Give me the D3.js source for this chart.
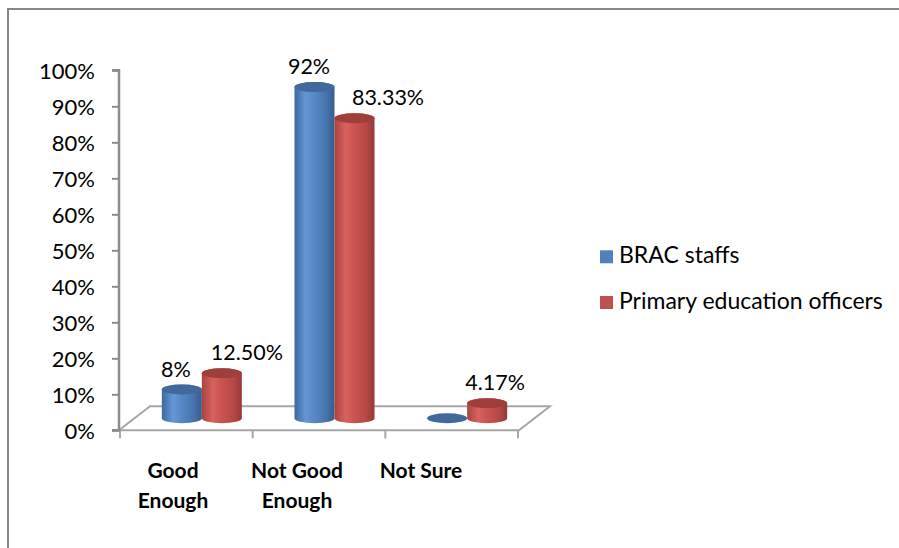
<!DOCTYPE html>
<html>
<head>
<meta charset="utf-8">
<script src="https://cdn.jsdelivr.net/npm/d3@7"></script>
<style>
  body { margin: 0; background: #fff; }
  svg { display: block; }
</style>
</head>
<body>
<svg id="chart" width="899" height="548"></svg>
<script>
// ---- data ----
const categories = ["Good Enough", "Not Good Enough", "Not Sure"];
const seriesNames = ["BRAC staffs", "Primary education officers"];
const bracStaffs = [0.08, 0.92, 0];
const educationOfficers = [0.125, 0.8333, 0.0417];
const tickValues = [0, 0.1, 0.2, 0.3, 0.4, 0.5, 0.6, 0.7, 0.8, 0.9, 1];

// ---- layout ----
const FONT = "Lato, 'Liberation Sans', Arial, sans-serif";
const depth = { dx: 31, dy: -24 };          // floor depth vector
const barRx = 20, ellRy = 5;                 // cylinder radii
const labelShift = [[-6, 25], [-5.5, 33.5], [0, 8]];  // value label x nudges per category [blue, red]

const svg = d3.select("#chart");

const defs = svg.append("defs");
function cylGradient(id, stops) {
  const g = defs.append("linearGradient").attr("id", id)
    .attr("x1", "0%").attr("x2", "100%").attr("y1", "0%").attr("y2", "0%");
  stops.forEach(([o, c]) => g.append("stop").attr("offset", o).attr("stop-color", c));
}
cylGradient("blueSide", [["0%", "#3E689E"], ["28%", "#6497D4"], ["45%", "#5A8BC8"], ["80%", "#4673AC"], ["100%", "#365C8D"]]);
cylGradient("redSide", [["0%", "#A94340"], ["28%", "#D8625F"], ["45%", "#CD5653"], ["80%", "#B54845"], ["100%", "#963936"]]);

const palette = [
  { side: "url(#blueSide)", top: "#41699C", key: "#4F81BD" },
  { side: "url(#redSide)", top: "#9E3F3C", key: "#C0504D" }
];

// chart frame
svg.append("rect")
  .attr("x", 8).attr("y", 9).attr("width", 920).attr("height", 560)
  .attr("fill", "none").attr("stroke", "#878787").attr("stroke-width", 2);

// ---- scales ----
const y = d3.scaleLinear().domain([0, 1]).range([430.3, 70.3]);
const x0 = d3.scaleBand().domain(categories).range([120, 518]);
const x1 = d3.scaleBand().domain(seriesNames).range([-2 * barRx, 2 * barRx]);
const xLabel = d3.scalePoint().domain(categories).range([173, 421]);

// ---- floor ----
const fx0 = x0.range()[0], fx1 = x0.range()[1], fy = y(0);
svg.append("path")
  .attr("d", `M${fx0 - 1},${fy} L${fx1 + 1},${fy} L${fx1 + 1 + depth.dx},${fy + depth.dy} L${fx0 - 1 + depth.dx},${fy + depth.dy} Z`)
  .attr("fill", "none").attr("stroke", "#A6A6A6").attr("stroke-width", 2);

// category tick marks under the floor's front edge
const catTicks = categories.map(c => x0(c)).concat([fx1]);
svg.append("g").selectAll("line").data(catTicks).join("line")
  .attr("x1", d => d).attr("x2", d => d)
  .attr("y1", fy).attr("y2", fy + 8)
  .attr("stroke", "#A6A6A6").attr("stroke-width", 2);

// ---- value axis ----
const yAxis = d3.axisLeft(y).tickValues(tickValues).tickFormat(d3.format(".0%")).tickSize(7).tickPadding(17);
const ga = svg.append("g").attr("transform", "translate(119,0)").call(yAxis);
ga.select(".domain").attr("stroke", "#8C8C8C").attr("stroke-width", 2.5).attr("d", `M-7,${y(1)}H0V${y(0)}H-7`);
ga.selectAll(".tick line").attr("stroke", "#8C8C8C").attr("stroke-width", 2);
ga.selectAll(".tick text")
  .attr("font-family", FONT).attr("font-size", 22).attr("fill", "#000")
  .attr("dy", "0.36em");

// ---- cylinders ----
const series = [bracStaffs, educationOfficers];
const bars = [];
categories.forEach((c, ci) => {
  series.forEach((vals, si) => {
    const cx = x0(c) + x0.bandwidth() / 2 + depth.dx / 2 + x1(seriesNames[si]) + barRx;
    bars.push({ ci, si, value: vals[ci], cx });
  });
});

const yBase = d => y(0) + depth.dy / 2;
const yTop = d => y(d.value) + depth.dy / 2;

const gb = svg.append("g");
const bar = gb.selectAll("g.bar").data(bars).join("g").attr("class", "bar");

bar.filter(d => d.value > 0).append("path")
  .attr("d", d => {
    const l = d.cx - barRx, r = d.cx + barRx, b = yBase(d), t = yTop(d);
    return `M${l},${t} L${l},${b} A${barRx},${ellRy} 0 0 0 ${r},${b} L${r},${t} A${barRx},${ellRy} 0 0 0 ${l},${t} Z`;
  })
  .attr("fill", d => palette[d.si].side);

bar.append("ellipse")
  .attr("cx", d => d.cx).attr("cy", d => yTop(d))
  .attr("rx", barRx).attr("ry", ellRy)
  .attr("fill", d => palette[d.si].top);

// ---- value labels ----
const fmt = [d3.format(".0%"), d3.format(".2%")];
svg.append("g").selectAll("text").data(bars.filter(d => d.value > 0)).join("text")
  .attr("x", d => d.cx + labelShift[d.ci][d.si])
  .attr("y", d => yTop(d) - 13)
  .attr("text-anchor", "middle")
  .attr("font-family", FONT).attr("font-size", 21.5).attr("fill", "#000")
  .text(d => fmt[d.si](d.value));

// ---- category labels ----
const wrap = s => s.length > 8 ? [s.slice(0, s.lastIndexOf(" ")), s.slice(s.lastIndexOf(" ") + 1)] : [s];
const gc = svg.append("g");
categories.forEach(c => {
  const t = gc.append("text")
    .attr("text-anchor", "middle")
    .attr("font-family", FONT).attr("font-size", 21).attr("font-weight", "bold").attr("fill", "#000");
  wrap(c).forEach((line, i) => {
    t.append("tspan").attr("x", xLabel(c)).attr("y", 478.3 + i * 30).text(line);
  });
});

// ---- legend ----
const lg = svg.append("g").selectAll("g").data(seriesNames).join("g")
  .attr("transform", (d, i) => `translate(600,${263.3 + i * 45.7})`);
lg.append("rect").attr("x", 0).attr("y", -13).attr("width", 13).attr("height", 13)
  .attr("fill", (d, i) => palette[i].key);
lg.append("text").attr("x", 19).attr("y", 0)
  .attr("font-family", FONT).attr("font-size", 23).attr("fill", "#000")
  .text(d => d);
</script>
</body>
</html>
